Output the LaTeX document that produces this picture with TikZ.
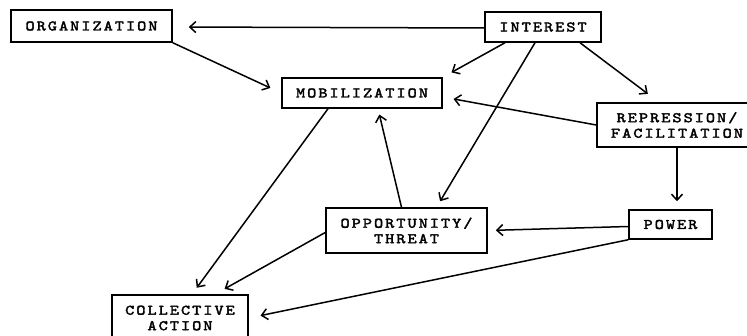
\documentclass[tikz,border=0pt]{standalone}
\usepackage{fontspec}
\usetikzlibrary{arrows.meta,calc}
\newfontfamily\boxfont{lmmono10-regular.otf}[FakeStretch=1.2,LetterSpace=14,FakeBold=2.5]
\tikzset{
  box/.style={draw, line width=1.5pt, inner sep=0pt, align=center,
    font=\boxfont\fontsize{14.5}{15.5}\selectfont},
  arr/.style={line width=1.5pt, -{Straight Barb[length=6pt,width=11pt,line width=1.5pt]}},
}
\begin{document}
\begin{tikzpicture}[x=1pt,y=-1pt]
\useasboundingbox (0,0) rectangle (747,336);
\node[box, minimum width=161pt, minimum height=32pt] (org) at (91.5,26) {ORGANIZATION};
\node[box, minimum width=116pt, minimum height=30pt] (int) at (543,27) {INTEREST};
\node[box, minimum width=160pt, minimum height=30pt] (mob) at (362,93) {MOBILIZATION};
\node[box, minimum width=160pt, minimum height=44pt] (rep) at (677,125) {REPRESSION/\\FACILITATION};
\node[box, minimum width=161pt, minimum height=45pt] (opp) at (406.5,230.5) {OPPORTUNITY/\\THREAT};
\node[box, minimum width=83pt, minimum height=29pt] (pow) at (670.5,224.5) {POWER};
\node[box, minimum width=136pt, minimum height=46pt] (col) at (180,318) {COLLECTIVE\\ACTION};

\draw[arr, shorten >=16pt] ($(int.west)+(0,1)$) -- ($(org.east)+(0,1)$);
\draw[arr, shorten >=12pt] (org.south east) -- (mob.west);
\draw[arr, shorten >=10pt] ($(int.south)+(-38,0)$) -- (mob.north east);
\draw[arr, shorten >=7pt] ($(int.south)+(-8,0)$) -- ($(opp.north)+(30,0)$);
\draw[arr, shorten >=14pt] ($(int.south)+(37,0)$) -- ($(rep.north)+(-18,0)$);
\draw[arr, shorten >=11pt] (rep.west) -- ($(mob.east)+(0,4)$);
\draw[arr, shorten >=8pt] (rep.south) -- (rep.south |- pow.north);
\draw[arr, shorten >=8pt] ($(pow.west)+(0,2)$) -- (opp.east);
\draw[arr, shorten >=12pt] (pow.south west) -- (col.east);
\draw[arr, shorten >=6pt] ($(opp.north)+(-5,0)$) -- ($(mob.south)+(16,0)$);
\draw[arr, shorten >=8pt] ($(mob.south)+(-34,0)$) -- ($(col.north)+(12,0)$);
\draw[arr, shorten >=11pt] ($(opp.west)+(0,2)$) -- ($(col.north)+(35,0)$);
\end{tikzpicture}
\end{document}
